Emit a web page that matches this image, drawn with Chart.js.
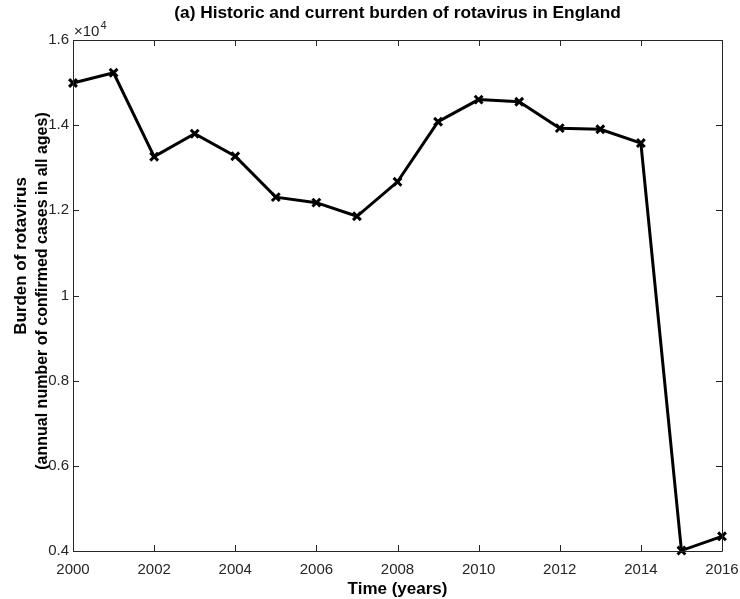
<!DOCTYPE html>
<html>
<head>
<meta charset="utf-8">
<script src="https://cdn.jsdelivr.net/npm/chart.js@4"></script>
<style>
  html, body { margin: 0; padding: 0; background: #ffffff; }
  #wrap { width: 740px; height: 599px; position: relative; }
</style>
</head>
<body>
<div id="wrap"><canvas id="c" width="740" height="599"></canvas></div>
<script>
// Annual confirmed rotavirus cases in England (all ages)
const years = [2000, 2001, 2002, 2003, 2004, 2005, 2006, 2007, 2008,
               2009, 2010, 2011, 2012, 2013, 2014, 2015, 2016];
const cases = [14990, 15230, 13260, 13800, 13270, 12310, 12180, 11860, 12670,
               14080, 14600, 14550, 13930, 13905, 13580, 4010, 4345];
const xTicks = [2000, 2002, 2004, 2006, 2008, 2010, 2012, 2014, 2016];
const yTicks = [4000, 6000, 8000, 10000, 12000, 14000, 16000];

const titleText = '(a) Historic and current burden of rotavirus in England';
const xTitle = 'Time (years)';
const yTitle1 = 'Burden of rotavirus';
const yTitle2 = '(annual number of confirmed cases in all ages)';

const AXIS = '#262626';
const FONT = '"Liberation Sans", Arial, Helvetica, sans-serif';

// Box frame, inward ticks on all sides, titles and the exponent label
const decorations = {
  id: 'decorations',
  afterDraw(chart) {
    const ctx = chart.ctx;
    const a = chart.chartArea;
    const xs = chart.scales.x, ys = chart.scales.y;
    const tl = 6;
    ctx.save();
    ctx.strokeStyle = AXIS;
    ctx.lineWidth = 1;
    ctx.beginPath();
    ctx.rect(Math.round(a.left) + 0.5, Math.round(a.top) + 0.5,
             Math.round(a.right - a.left), Math.round(a.bottom - a.top));
    xs.ticks.forEach(t => {
      const px = Math.round(xs.getPixelForValue(t.value)) + 0.5;
      ctx.moveTo(px, a.bottom); ctx.lineTo(px, a.bottom - tl);
      ctx.moveTo(px, a.top); ctx.lineTo(px, a.top + tl);
    });
    ys.ticks.forEach(t => {
      const py = Math.round(ys.getPixelForValue(t.value)) + 0.5;
      ctx.moveTo(a.left, py); ctx.lineTo(a.left + tl, py);
      ctx.moveTo(a.right, py); ctx.lineTo(a.right - tl, py);
    });
    ctx.stroke();

    // exponent marker above the y axis
    ctx.fillStyle = AXIS;
    ctx.textBaseline = 'alphabetic';
    ctx.textAlign = 'left';
    ctx.font = '15px ' + FONT;
    ctx.fillText('\u00d710', a.left + 1, a.top - 4);
    const w = ctx.measureText('\u00d710').width;
    ctx.font = '11px ' + FONT;
    ctx.fillText('4', a.left + 1 + w + 1, a.top - 11);

    // chart title
    ctx.fillStyle = '#000000';
    ctx.textAlign = 'center';
    ctx.textBaseline = 'middle';
    ctx.font = 'bold 17.3px ' + FONT;
    ctx.fillText(titleText, (a.left + a.right) / 2, 13);

    // x axis title
    ctx.font = 'bold 17px ' + FONT;
    ctx.fillText(xTitle, (a.left + a.right) / 2, 589);

    // y axis title, two lines
    ctx.save();
    ctx.translate(21, 256);
    ctx.rotate(-Math.PI / 2);
    ctx.fillText(yTitle1, 0, 0);
    ctx.restore();
    ctx.save();
    ctx.font = 'bold 16px ' + FONT;
    ctx.translate(43, 291);
    ctx.rotate(-Math.PI / 2);
    ctx.fillText(yTitle2, 0, 0);
    ctx.restore();
    ctx.restore();
  }
};

new Chart(document.getElementById('c'), {
  type: 'line',
  data: {
    datasets: [{
      data: years.map((yr, i) => ({ x: yr, y: cases[i] })),
      borderColor: '#000000',
      backgroundColor: '#000000',
      borderWidth: 3,
      pointStyle: 'crossRot',
      pointRadius: 5.5,
      pointBorderWidth: 3,
      pointBorderColor: '#000000',
      pointHoverRadius: 5.5,
      tension: 0,
      fill: false,
      clip: false
    }]
  },
  options: {
    responsive: false,
    animation: false,
    events: [],
    layout: { padding: { top: 40, right: 18, left: 0, bottom: 0 } },
    plugins: { legend: { display: false }, tooltip: { enabled: false }, title: { display: false } },
    scales: {
      x: {
        type: 'linear',
        min: 2000, max: 2016,
        afterBuildTicks(scale) { scale.ticks = xTicks.map(v => ({ value: v })); },
        afterFit(scale) {
          scale.height = 48;
          scale.paddingLeft = 0;
          scale.paddingRight = 0;
        },
        grid: { display: false, drawTicks: false },
        border: { display: false },
        ticks: {
          color: AXIS,
          font: { family: FONT, size: 15 },
          padding: 10,
          maxRotation: 0,
          autoSkip: false,
          callback: v => String(v)
        }
      },
      y: {
        type: 'linear',
        min: 4000, max: 16000,
        afterBuildTicks(scale) { scale.ticks = yTicks.map(v => ({ value: v })); },
        afterFit(scale) {
          scale.width = 73;
          scale.paddingTop = 0;
          scale.paddingBottom = 0;
        },
        grid: { display: false, drawTicks: false },
        border: { display: false },
        ticks: {
          color: AXIS,
          font: { family: FONT, size: 15 },
          padding: 4,
          autoSkip: false,
          callback: v => String(Math.round(v / 1000) / 10)
        }
      }
    }
  },
  plugins: [decorations]
});
</script>
</body>
</html>
